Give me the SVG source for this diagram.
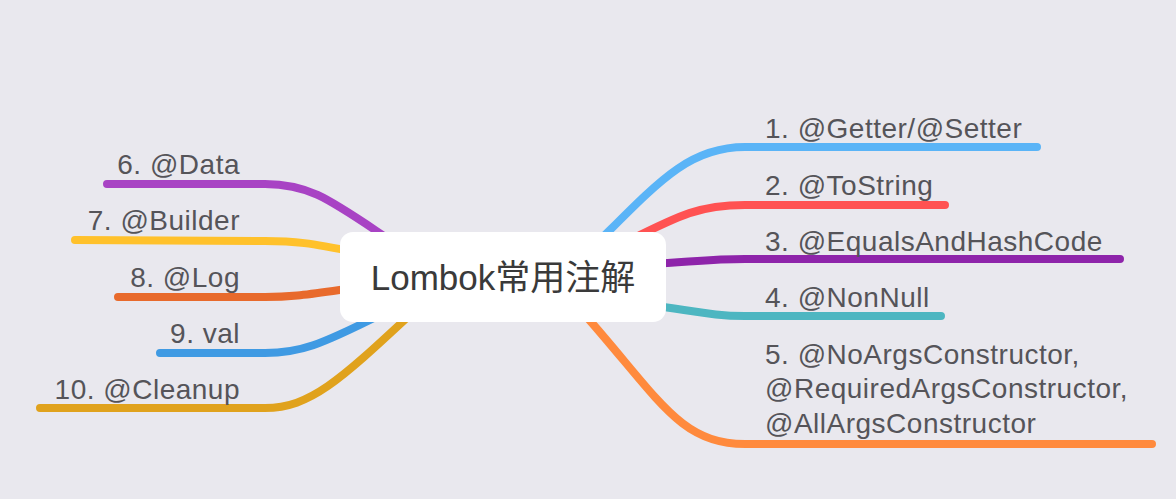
<svg xmlns="http://www.w3.org/2000/svg" width="1176" height="499" viewBox="0 0 1176 499">
<style>
.c{fill:none;stroke-width:8;stroke-linecap:round}
.t{font-family:"Liberation Sans",Arial,sans-serif;font-size:28px;letter-spacing:0.5px;fill:#555459}
.l{text-anchor:end}
.m{font-family:"Liberation Sans","Noto Sans CJK SC",sans-serif;font-size:35px;fill:#3a3a3a;text-anchor:middle}
</style>
<rect width="1176" height="499" fill="#e9e8ee"/>
<g id="connectors">
<path class="c" stroke="#5ab4f7" d="M600 240 C660 180 690 147 745 147 L1037 147"/>
<path class="c" stroke="#ff5252" d="M630 240 C680 215 700 205 745 205 L945 205"/>
<path class="c" stroke="#8e24aa" d="M650 264 C700 261 715 259 745 259 L1120 259"/>
<path class="c" stroke="#4db6c1" d="M650 305 C700 312 715 316 745 316 L941 316"/>
<path class="c" stroke="#ff8a3d" d="M585 315 C660 400 680 444 745 444 L1152 444"/>
<path class="c" stroke="#a843c4" d="M390 240 C330 200 310 184 265 184 L107 184"/>
<path class="c" stroke="#ffc12b" d="M355 252 C310 243 295 241 265 241 L75 240"/>
<path class="c" stroke="#e86a2c" d="M355 288 C310 294 295 297 265 297 L118 297"/>
<path class="c" stroke="#3f9ae3" d="M380 315 C320 345 300 353 265 353 L160 353"/>
<path class="c" stroke="#e0a21d" d="M410 315 C340 380 310 408 265 408 L40 408"/>
</g>
<g id="center">
<rect x="340" y="232" width="326" height="90" rx="13" fill="#fff"/>
<text class="m" x="503" y="290">Lombok常用注解</text>
</g>
<g id="n1"><text class="t" x="765" y="138">1. @Getter/@Setter</text></g>
<g id="n2"><text class="t" x="765" y="195">2. @ToString</text></g>
<g id="n3"><text class="t" x="765" y="251">3. @EqualsAndHashCode</text></g>
<g id="n4"><text class="t" x="765" y="307">4. @NonNull</text></g>
<g id="n5"><text class="t" x="765" y="364">5. @NoArgsConstructor,</text><text class="t" x="765" y="398">@RequiredArgsConstructor,</text><text class="t" x="765" y="433">@AllArgsConstructor</text></g>
<g id="n6"><text class="t l" x="240" y="174">6. @Data</text></g>
<g id="n7"><text class="t l" x="240" y="230">7. @Builder</text></g>
<g id="n8"><text class="t l" x="240" y="287">8. @Log</text></g>
<g id="n9"><text class="t l" x="240" y="343">9. val</text></g>
<g id="n10"><text class="t l" x="240" y="399">10. @Cleanup</text></g>
</svg>
